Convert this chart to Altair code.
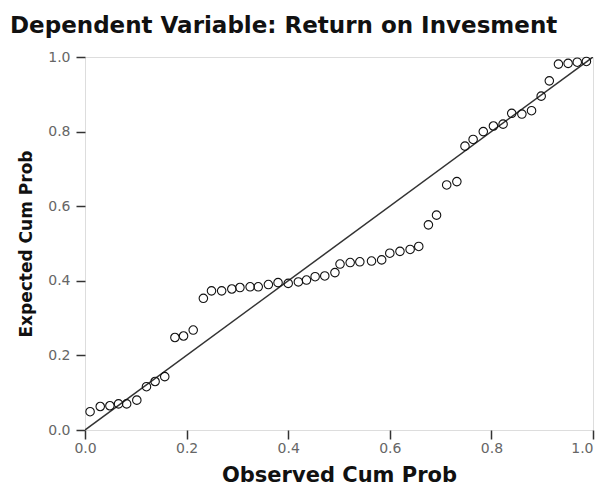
import altair as alt
import pandas as pd

obs_cum_prob = [0.010, 0.030, 0.049, 0.066, 0.082, 0.102, 0.121, 0.138, 0.157, 0.177,
                0.194, 0.213, 0.233, 0.249, 0.269, 0.289, 0.305, 0.325, 0.341, 0.361,
                0.380, 0.400, 0.420, 0.436, 0.453, 0.472, 0.492, 0.502, 0.522, 0.541,
                0.564, 0.584, 0.600, 0.620, 0.640, 0.657, 0.676, 0.692, 0.712, 0.732,
                0.748, 0.764, 0.784, 0.804, 0.823, 0.840, 0.860, 0.879, 0.898, 0.914,
                0.932, 0.951, 0.969, 0.987]
exp_cum_prob = [0.049, 0.063, 0.065, 0.070, 0.070, 0.080, 0.116, 0.130, 0.143, 0.248,
                0.252, 0.268, 0.353, 0.373, 0.373, 0.378, 0.382, 0.384, 0.384, 0.390,
                0.395, 0.393, 0.397, 0.402, 0.411, 0.413, 0.422, 0.445, 0.449, 0.451,
                0.453, 0.456, 0.474, 0.479, 0.484, 0.492, 0.550, 0.576, 0.657, 0.666,
                0.761, 0.779, 0.800, 0.815, 0.820, 0.849, 0.847, 0.856, 0.895, 0.936,
                0.981, 0.983, 0.986, 0.988]
ref_line_x = [0.0, 1.0]
ref_line_y = [0.0, 1.0]
ticks = [0.0, 0.2, 0.4, 0.6, 0.8, 1.0]

pts = pd.DataFrame({"obs": obs_cum_prob, "exp": exp_cum_prob})
ref = pd.DataFrame({"obs": ref_line_x, "exp": ref_line_y})

FONT = "DejaVu Sans"

xscale = alt.Scale(domain=[0, 1], nice=False, zero=False)
yscale = alt.Scale(domain=[0, 1], nice=False, zero=False)

xaxis = alt.Axis(values=ticks, format=".1f", title="Observed Cum Prob", grid=False,
                 tickSize=9, tickColor="#333333", tickWidth=1.5, domain=False,
                 labelFlush=False, labelOverlap=False, labelBound=False,
                 labelAlign={"condition": {"test": "datum.value >= 1", "value": "right"},
                             "value": "center"},
                 labelColor="#666666", labelFontSize=14, labelFont=FONT, labelPadding=2,
                 titleFont=FONT, titleFontSize=21, titleFontWeight="bold", titleColor="#111111",
                 titlePadding=9)
yaxis = alt.Axis(values=ticks, format=".1f", title="Expected Cum Prob", grid=False,
                 tickSize=9, tickColor="#333333", tickWidth=1.5, domain=False,
                 labelFlush=False, labelOverlap=False, labelBound=False,
                 labelColor="#666666", labelFontSize=14, labelFont=FONT, labelPadding=6,
                 titleFont=FONT, titleFontSize=17, titleFontWeight="bold", titleColor="#111111",
                 titlePadding=12)

line = alt.Chart(ref).mark_line(color="#333333", strokeWidth=1.5, clip=True).encode(
    x=alt.X("obs:Q", scale=xscale, axis=xaxis),
    y=alt.Y("exp:Q", scale=yscale, axis=yaxis),
)
points = alt.Chart(pts).mark_point(shape="circle", filled=False, color="#111111",
                                   size=72, strokeWidth=1.1, opacity=1).encode(
    x=alt.X("obs:Q", scale=xscale),
    y=alt.Y("exp:Q", scale=yscale),
)

chart = alt.layer(line, points).properties(
    width=508, height=373,
    title=alt.TitleParams("Dependent Variable: Return on Invesment", anchor="start",
                          frame="group",
                          font=FONT, fontSize=23, fontWeight="bold", color="#111111",
                          dx=-75, offset=12),
    autosize=alt.AutoSizeParams(type="none"),
    padding={"left": 77, "top": 49, "right": 5, "bottom": 55},
).configure_view(
    fill="#f0f0f0", stroke="#333333", strokeWidth=2
).configure(background="white")

chart.save("out.html", embed_options={"renderer": "svg", "actions": False})
